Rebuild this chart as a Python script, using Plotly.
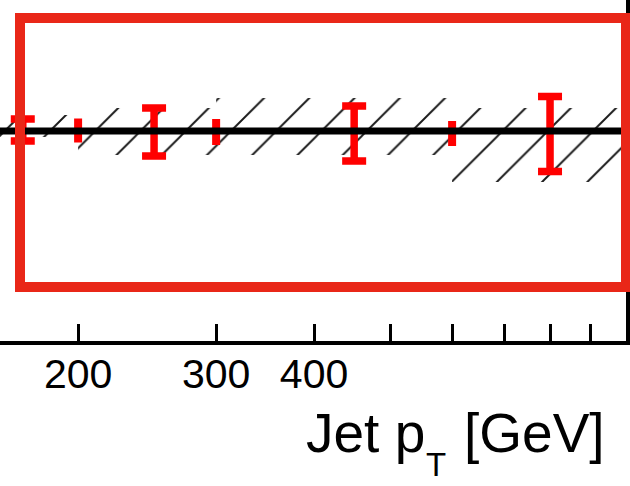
import plotly.graph_objects as go

# ---- data ----
bin_edges = [140, 200, 300, 600, 1000]          # GeV
band_up = [1.032, 1.046, 1.066, 1.046]          # upper edge of hatched uncertainty band
band_dn = [0.988, 0.952, 0.952, 0.898]          # lower edge

pts_x = [170, 250, 450, 800]                    # points with capped error bars
pts_y = [1.002, 0.998, 0.995, 0.994]
pts_err = [0.022, 0.048, 0.055, 0.075]

edge_x = [200, 300, 600]                        # small uncapped bars at bin edges
edge_y = [1.001, 0.998, 0.995]
edge_err = [0.024, 0.026, 0.025]

ref_x = [140, 1000]
ref_y = [1.0, 1.0]

major_ticks = [200, 300, 400]
major_labels = ["200", "300", "400"]
minor_ticks = [500, 600, 700, 800, 900]

title_main = "Jet p"
title_sub = "T"
title_unit = "[GeV]"

# ---- build step polygon for the band ----
bx, by = [], []
for i in range(len(band_up)):
    bx += [bin_edges[i], bin_edges[i + 1]]
    by += [band_up[i], band_up[i]]
for i in reversed(range(len(band_dn))):
    bx += [bin_edges[i + 1], bin_edges[i]]
    by += [band_dn[i], band_dn[i]]

RED = "#FF0000"
BOX = "#E92718"
W_PLOT = 626.0
H_PLOT = 341.0

fig = go.Figure()
fig.add_trace(go.Scatter(
    x=bx, y=by, mode="lines", fill="toself",
    line=dict(width=0, color="rgba(0,0,0,0)"),
    fillcolor="rgba(0,0,0,0)",
    fillpattern=dict(shape="/", size=32, solidity=0.06, fgopacity=1,
                     fgcolor="#1a1a1a", bgcolor="rgba(0,0,0,0)"),
    hoverinfo="skip", showlegend=False))

fig.add_trace(go.Scatter(
    x=pts_x, y=pts_y, mode="markers",
    marker=dict(size=0, color=RED),
    error_y=dict(type="data", array=pts_err, color=RED, thickness=7.5, width=12),
    showlegend=False))

fig.add_trace(go.Scatter(
    x=edge_x, y=edge_y, mode="markers",
    marker=dict(size=0, color=RED),
    error_y=dict(type="data", array=edge_err, color=RED, thickness=8, width=0),
    showlegend=False))

fig.add_trace(go.Scatter(
    x=ref_x, y=ref_y, mode="lines",
    line=dict(color="black", width=7),
    showlegend=False))

font_main = dict(family="Liberation Sans", size=55, color="black")
fig.update_layout(
    width=630, height=486,
    margin=dict(l=0, r=4, t=0, b=145),
    paper_bgcolor="white", plot_bgcolor="white",
    xaxis=dict(
        type="log", range=[2.2014, 3.0],
        showgrid=False, zeroline=False,
        showline=True, linecolor="black", linewidth=4,
        ticks="inside", ticklen=17, tickwidth=3, tickcolor="black",
        tickmode="array", tickvals=major_ticks, ticktext=major_labels,
        tickfont=dict(family="Liberation Sans", size=41, color="black"),
        ticklabelstandoff=-6,
        minor=dict(tickmode="array", tickvals=minor_ticks, ticks="inside",
                   ticklen=17, tickwidth=3, tickcolor="black", showgrid=False),
    ),
    yaxis=dict(
        range=[0.58, 1.262], side="right",
        showgrid=False, zeroline=False, showticklabels=False, ticks="",
        showline=True, linecolor="black", linewidth=4,
    ),
    annotations=[
        dict(text=title_main, xref="paper", yref="paper",
             x=427 / W_PLOT, y=-(400 - H_PLOT) / H_PLOT,
             xanchor="right", yanchor="top", showarrow=False, font=font_main),
        dict(text=title_sub, xref="paper", yref="paper",
             x=436 / W_PLOT, y=-(485 - H_PLOT) / H_PLOT,
             xanchor="center", yanchor="bottom", showarrow=False,
             font=dict(family="Liberation Sans", size=33, color="black")),
        dict(text=title_unit, xref="paper", yref="paper",
             x=462 / W_PLOT, y=-(400 - H_PLOT) / H_PLOT,
             xanchor="left", yanchor="top", showarrow=False, font=font_main),
    ],
    shapes=[dict(
        type="rect", xref="paper", yref="paper",
        x0=20 / W_PLOT, x1=1.0, y0=1 - 287 / H_PLOT, y1=1 - 18 / H_PLOT,
        line=dict(color=BOX, width=10), fillcolor="rgba(0,0,0,0)", layer="above",
    )],
)

fig.write_html("out.html", config={"displayModeBar": False},
               post_script="document.body.style.margin='0';")
